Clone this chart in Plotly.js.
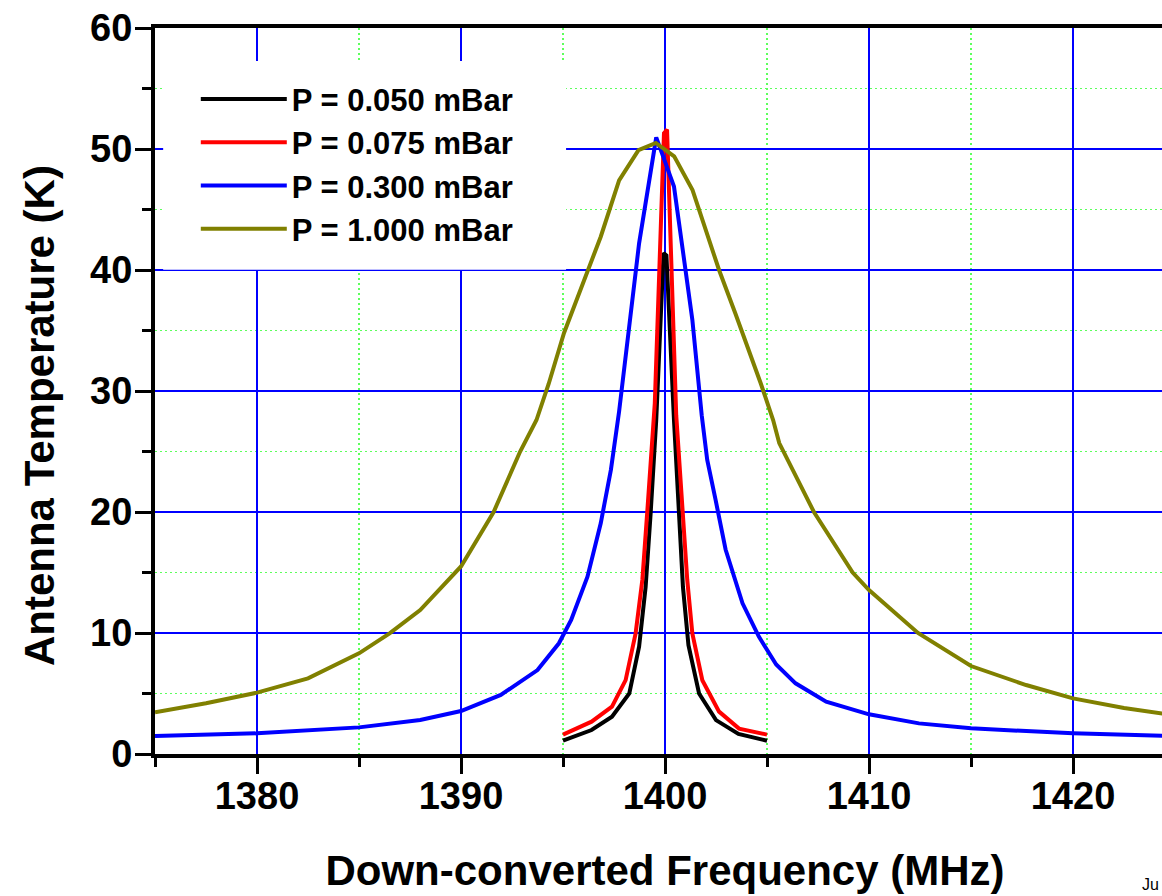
<!DOCTYPE html>
<html>
<head>
<meta charset="utf-8">
<script src="https://cdn.plot.ly/plotly-3.0.1.min.js"></script>
<style>
  html, body { margin: 0; padding: 0; overflow: hidden; background: #fff; }
  #chart { width: 1200px; height: 896px; }
</style>
</head>
<body>
<div id="chart"></div>
<script>
// Series names (legend labels)
const seriesNames = ["P = 0.050 mBar", "P = 0.075 mBar", "P = 0.300 mBar", "P = 1.000 mBar"];
const seriesColors = ["#000000", "#ff0000", "#0000ff", "#808000"];

// P = 0.050 mBar
const freq050 = [1395, 1396.4, 1397.4, 1398.25, 1398.73, 1399.05, 1399.3, 1399.57, 1399.93, 1400.07, 1400.44, 1400.67, 1400.88, 1401.15, 1401.67, 1402.5, 1403.6, 1405];
const temp050 = [1.1, 1.98, 3.08, 5.0, 8.87, 13.8, 20.0, 27.6, 41.4, 41.2, 27.6, 20.0, 13.8, 9.0, 5.0, 2.8, 1.66, 1.1];

// P = 0.075 mBar
const freq075 = [1395, 1396.4, 1397.4, 1398.07, 1398.56, 1398.89, 1399.13, 1399.35, 1399.5, 1399.95, 1400.1, 1400.55, 1400.85, 1401.09, 1401.34, 1401.83, 1402.65, 1403.63, 1405];
const temp075 = [1.6, 2.67, 3.91, 6.1, 9.97, 14.4, 20.0, 26.0, 29.0, 51.3, 51.6, 28.0, 20.0, 14.4, 9.97, 6.1, 3.5, 2.1, 1.6];

// P = 0.300 mBar
const freq300 = [1375, 1380, 1385, 1388, 1390, 1391.95, 1393.75, 1394.8, 1395.4, 1396.2, 1396.85, 1397.35, 1397.75, 1398.25, 1398.73, 1399.57, 1400.44, 1400.85, 1401.34, 1401.8, 1402.07, 1402.48, 1402.97, 1403.8, 1404.6, 1405.45, 1406.4, 1407.9, 1410, 1412.45, 1415, 1420, 1425];
const temp300 = [1.49, 1.71, 2.2, 2.81, 3.55, 4.88, 6.94, 9.15, 11.07, 14.65, 19.07, 23.5, 28.3, 35.3, 42.2, 50.96, 46.9, 41.9, 35.9, 28.0, 24.3, 21.0, 16.9, 12.45, 9.7, 7.4, 5.84, 4.33, 3.28, 2.53, 2.12, 1.71, 1.47];

// P = 1.000 mBar
const freq1000 = [1375, 1377.5, 1380, 1382.5, 1385, 1386.5, 1388, 1390, 1391.6, 1392.9, 1393.7, 1394.3, 1395.05, 1396.2, 1396.85, 1397.75, 1398.7, 1399.55, 1400.45, 1401.35, 1402.65, 1403.45, 1404.3, 1404.7, 1405.3, 1405.6, 1407.3, 1409.2, 1410, 1412.4, 1415, 1417.7, 1420, 1422.5, 1425];
const temp1000 = [3.45, 4.2, 5.07, 6.25, 8.32, 9.97, 11.9, 15.5, 20.0, 25.0, 27.6, 30.6, 34.8, 40.0, 42.75, 47.4, 49.9, 50.5, 49.4, 46.6, 40.0, 36.4, 32.6, 30.6, 27.6, 25.7, 20.0, 15.0, 13.55, 10.0, 7.27, 5.7, 4.6, 3.8, 3.2];

// Axis texts
const xTitle = "Down-converted Frequency (MHz)";
const yTitle = "Antenna Temperature (K)";
const cornerNote = "Ju";

const xs = [freq050, freq075, freq300, freq1000];
const ys = [temp050, temp075, temp300, temp1000];

const FONT = "'Liberation Sans', Arial, sans-serif";

const traces = seriesNames.map((name, i) => ({
  type: "scatter",
  mode: "lines",
  name: name,
  x: xs[i],
  y: ys[i],
  line: { color: seriesColors[i], width: 4 },
  hoverinfo: "skip"
}));

const minorCommon = {
  ticks: "outside", ticklen: 9, tickwidth: 3, tickcolor: "#000",
  showgrid: true, gridcolor: "#5cff5c", griddash: "2px,3px", gridwidth: 1.5
};

const axisCommon = {
  showline: true,
  linecolor: "#000",
  linewidth: 4,
  mirror: true,
  ticks: "outside",
  tickcolor: "#000",
  tickwidth: 3,
  ticklen: 16,
  showgrid: true,
  gridcolor: "#0000ff",
  gridwidth: 1.2,
  zeroline: false,
  tickfont: { family: FONT, size: 38, color: "#000", weight: "bold" }
};

const layout = {
  width: 1200,
  height: 896,
  margin: { l: 155, r: 25, t: 28, b: 142 },
  paper_bgcolor: "#fff",
  plot_bgcolor: "#fff",
  showlegend: true,
  legend: {
    x: 0.040, y: 0.939, xanchor: "left", yanchor: "top",
    bgcolor: "rgba(255,255,255,0)",
    borderwidth: 0,
    itemwidth: 86,
    font: { family: FONT, size: 31, color: "#000", weight: "bold" },
    tracegroupgap: 0
  },
  // white backing panel behind the legend (hides grid there, as in the original)
  shapes: [
    { type: "rect", xref: "paper", yref: "paper", x0: 0.008, x1: 0.403, y0: 0.667, y1: 0.9545,
      fillcolor: "#ffffff", line: { width: 0 }, layer: "above" }
  ],
  xaxis: Object.assign({}, axisCommon, {
    range: [1375, 1425],
    tickmode: "linear",
    tick0: 1380,
    dtick: 10,
    ticklabelstandoff: -11,
    minor: Object.assign({ tick0: 1375, dtick: 5 }, minorCommon),
    title: { text: xTitle, standoff: 41, font: { family: FONT, size: 42, color: "#000", weight: "bold" } }
  }),
  yaxis: Object.assign({}, axisCommon, {
    range: [0, 60],
    tickmode: "linear",
    tick0: 0,
    dtick: 10,
    ticklabelstandoff: -5,
    minor: Object.assign({ tick0: 0, dtick: 5 }, minorCommon)
  }),
  annotations: [
    { text: yTitle, xref: "paper", yref: "paper", x: -0.1127, y: 0.4656,
      xanchor: "center", yanchor: "middle", textangle: -90, showarrow: false,
      font: { family: FONT, size: 42, color: "#000", weight: "bold" } },
    { text: cornerNote, xref: "paper", yref: "paper", x: 0.9657, y: -0.18,
      xanchor: "left", yanchor: "middle", showarrow: false,
      font: { family: FONT, size: 16, color: "#000" } }
  ]
};

Plotly.newPlot("chart", traces, layout, { displayModeBar: false, staticPlot: true });
</script>
</body>
</html>
